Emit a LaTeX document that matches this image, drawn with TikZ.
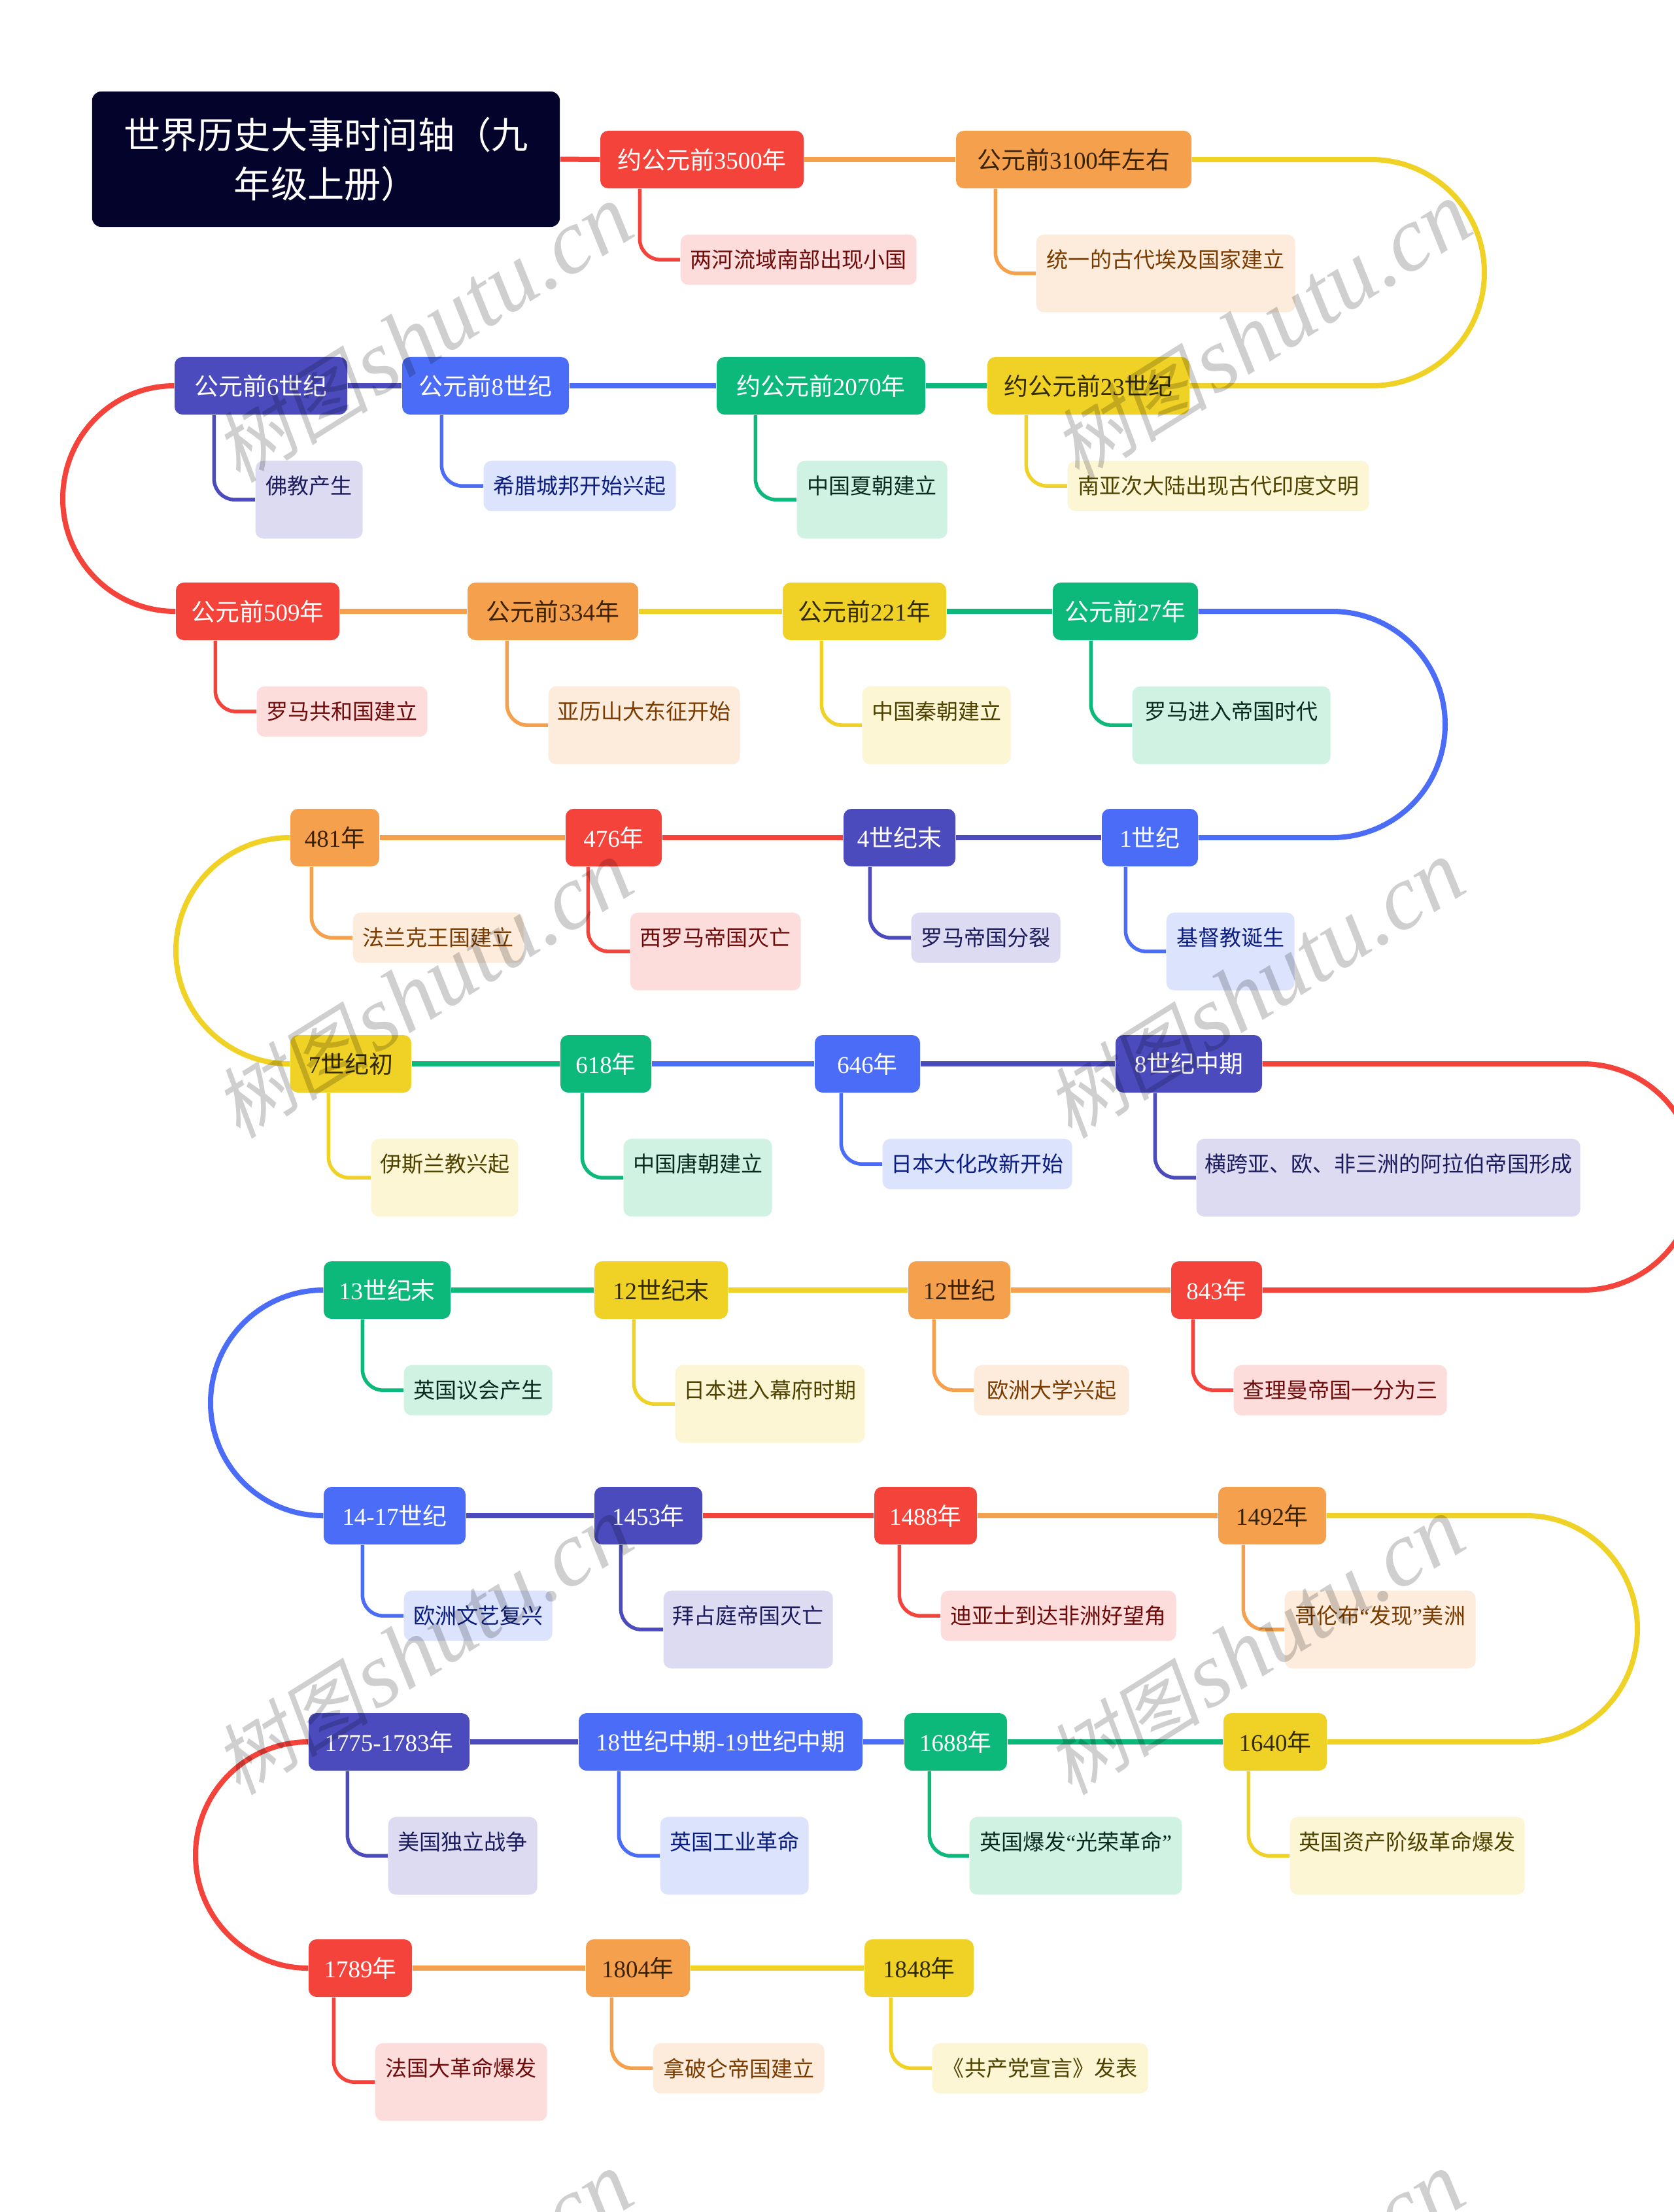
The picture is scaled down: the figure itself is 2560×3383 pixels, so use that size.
\documentclass[tikz,border=0pt]{standalone}
\usepackage{fontspec}
\setmainfont{Noto Sans CJK SC}
\newfontfamily\digitfont{Liberation Serif}
\newfontfamily\wmlatinfont{Liberation Serif}
\newfontfamily\wmcjkfont{Noto Sans CJK SC}[FakeSlant=0.2]
\newcommand\yr[1]{{\digitfont #1}}
\pgfdeclarelayer{paper}
\pgfdeclarelayer{bg}
\pgfdeclarelayer{fg}
\pgfsetlayers{paper,bg,main,fg}
\definecolor{cR}{HTML}{F4433A}
\definecolor{cO}{HTML}{F5A04C}
\definecolor{cY}{HTML}{F0D125}
\definecolor{cG}{HTML}{0CB97A}
\definecolor{cB}{HTML}{4A6CF6}
\definecolor{cI}{HTML}{4B4BBE}
\definecolor{lR}{HTML}{FDDCDC}
\definecolor{lO}{HTML}{FDECDC}
\definecolor{lY}{HTML}{FCF6D5}
\definecolor{lG}{HTML}{CFF2E3}
\definecolor{lB}{HTML}{DCE3FD}
\definecolor{lI}{HTML}{DCDBF1}
\definecolor{tR}{HTML}{6E0B0B}
\definecolor{tO}{HTML}{7A3B00}
\definecolor{tY}{HTML}{4D4200}
\definecolor{tG}{HTML}{0A2A20}
\definecolor{tB}{HTML}{0C1E80}
\definecolor{tI}{HTML}{1C1C5C}
\definecolor{tPO}{HTML}{3A2200}
\definecolor{tPY}{HTML}{332B00}
\definecolor{titlebg}{HTML}{03032B}
\tikzset{
  pbox/.style={rounded corners=0.12cm, minimum height=0.88cm, inner sep=0pt, font=\fontsize{10.5}{12}\selectfont},
  boxR/.style={fill=cR,text=white},
  boxO/.style={fill=cO,text=tPO},
  boxY/.style={fill=cY,text=tPY},
  boxG/.style={fill=cG,text=white},
  boxB/.style={fill=cB,text=white},
  boxI/.style={fill=cI,text=white},
  cbox/.style={rounded corners=0.12cm, anchor=north west, inner sep=0pt},
  ctext/.style={anchor=north, minimum height=0.77cm, inner sep=0pt, font=\fontsize{9.4}{11}\selectfont},
  mline/.style={line width=0.08cm},
  clink/.style={line width=0.055cm, rounded corners=0.32cm},
  wm/.style={text=black, text opacity=0.19, inner sep=0pt, rotate=32},
}
% parent: name, left, right, y, colour letter, text
\newcommand\PN[6]{\node[pbox,box#5,minimum width={(#3-#2)*0.01cm}] (#1) at ({(#2+#3)/2},#4) {#6};}
% child: name, parent, offset, left, right, row y, height, colour letter, text
\newcommand\CN[9]{%
  \node[cbox,fill=l#8,minimum width={(#5-#4)*0.01cm},minimum height={#7*0.01cm}] (#1) at (#4,{#6+114}) {};
  \node[ctext,text=t#8] (#1-t) at (#1.north) {#9};
  \begin{pgfonlayer}{bg}
    \draw[clink,c#8] ([xshift=#3*0.01cm]#2.south west) |- (#1.west);
  \end{pgfonlayer}}
\newcommand\WM[3]{\node[wm] (#1) at (#2,#3) {{\wmcjkfont\fontsize{34}{36}\selectfont 树图}\hspace{0.25em}{\wmlatinfont\itshape\fontsize{40}{42}\selectfont shutu.cn}};}
\begin{document}
\begin{tikzpicture}[x=0.01cm,y=-0.01cm]
\useasboundingbox (0,0) rectangle (2560,3383);
\begin{pgfonlayer}{paper}
\fill[white] (0,0) rectangle (2560,3383);
\end{pgfonlayer}

% title
\node[fill=titlebg, rounded corners=0.14cm, text=white, align=center, inner sep=0pt,
      minimum width=7.15cm, minimum height=2.07cm, font=\fontsize{16}{21.5}\selectfont]
      (title) at (498.5,243.5) {世界历史大事时间轴（九\\年级上册）};

% parents
\PN{P3500}{918}{1229}{244}{R}{约公元前\yr{3500}年}
\PN{P3100}{1462}{1822}{244}{O}{公元前\yr{3100}年左右}

\PN{P6c}{267}{531}{590}{I}{公元前\yr{6}世纪}
\PN{P8c}{615}{870}{590}{B}{公元前\yr{8}世纪}
\PN{P2070}{1096}{1415}{590}{G}{约公元前\yr{2070}年}
\PN{P23c}{1510}{1819}{590}{Y}{约公元前\yr{23}世纪}

\PN{P509}{269}{519}{935}{R}{公元前\yr{509}年}
\PN{P334}{715}{976}{935}{O}{公元前\yr{334}年}
\PN{P221}{1197}{1447}{935}{Y}{公元前\yr{221}年}
\PN{P27}{1610}{1832}{935}{G}{公元前\yr{27}年}

\PN{P481}{444}{580}{1281}{O}{\yr{481}年}
\PN{P476}{865}{1012}{1281}{R}{\yr{476}年}
\PN{P4c}{1290}{1461}{1281}{I}{\yr{4}世纪末}
\PN{P1c}{1685}{1832}{1281}{B}{\yr{1}世纪}

\PN{P7c}{444}{629}{1627}{Y}{\yr{7}世纪初}
\PN{P618}{857}{996}{1627}{G}{\yr{618}年}
\PN{P646}{1246}{1407}{1627}{B}{\yr{646}年}
\PN{P8cm}{1706}{1930}{1627}{I}{\yr{8}世纪中期}

\PN{P13c}{495}{689}{1973}{G}{\yr{13}世纪末}
\PN{P12ce}{909}{1113}{1973}{Y}{\yr{12}世纪末}
\PN{P12c}{1389}{1545}{1973}{O}{\yr{12}世纪}
\PN{P843}{1791}{1930}{1973}{R}{\yr{843}年}

\PN{P1417}{495}{712}{2318}{B}{\yr{14-17}世纪}
\PN{P1453}{909}{1074}{2318}{I}{\yr{1453}年}
\PN{P1488}{1337}{1494}{2318}{R}{\yr{1488}年}
\PN{P1492}{1863}{2028}{2318}{O}{\yr{1492}年}

\PN{P1775}{472}{718}{2664}{I}{\yr{1775-1783}年}
\PN{P18c}{885}{1319}{2664}{B}{\yr{18}世纪中期\yr{-19}世纪中期}
\PN{P1688}{1383}{1540}{2664}{G}{\yr{1688}年}
\PN{P1640}{1871}{2029}{2664}{Y}{\yr{1640}年}

\PN{P1789}{472}{630}{3010}{R}{\yr{1789}年}
\PN{P1804}{896}{1055}{3010}{O}{\yr{1804}年}
\PN{P1848}{1322}{1489}{3010}{Y}{\yr{1848}年}

% children
\CN{c1a}{P3500}{61}{1040}{1401}{244}{77}{R}{两河流域南部出现小国}
\CN{c1b}{P3100}{61}{1584}{1980}{244}{119}{O}{统一的古代埃及国家建立}
\CN{c2a}{P6c}{61}{390}{554}{590}{119}{I}{佛教产生}
\CN{c2b}{P8c}{61}{739}{1033}{590}{77}{B}{希腊城邦开始兴起}
\CN{c2c}{P2070}{60}{1218}{1448}{590}{119}{G}{中国夏朝建立}
\CN{c2d}{P23c}{60}{1632}{2093}{590}{77}{Y}{南亚次大陆出现古代印度文明}
\CN{c3a}{P509}{61}{392}{653}{935}{77}{R}{罗马共和国建立}
\CN{c3b}{P334}{61}{838}{1131}{935}{119}{O}{亚历山大东征开始}
\CN{c3c}{P221}{60}{1318}{1545}{935}{119}{Y}{中国秦朝建立}
\CN{c3d}{P27}{59}{1731}{2034}{935}{119}{G}{罗马进入帝国时代}
\CN{c4a}{P481}{33}{539}{800}{1281}{77}{O}{法兰克王国建立}
\CN{c4b}{P476}{35}{963}{1224}{1281}{119}{R}{西罗马帝国灭亡}
\CN{c4c}{P4c}{41}{1393}{1621}{1281}{77}{I}{罗马帝国分裂}
\CN{c4d}{P1c}{37}{1783}{1979}{1281}{119}{B}{基督教诞生}
\CN{c5a}{P7c}{59}{567}{792}{1627}{119}{Y}{伊斯兰教兴起}
\CN{c5b}{P618}{34}{953}{1180}{1627}{119}{G}{中国唐朝建立}
\CN{c5c}{P646}{41}{1349}{1639}{1627}{77}{B}{日本大化改新开始}
\CN{c5d}{P8cm}{61}{1829}{2416}{1627}{119}{I}{横跨亚、欧、非三洲的阿拉伯帝国形成}
\CN{c6a}{P13c}{60}{617}{844}{1973}{77}{G}{英国议会产生}
\CN{c6b}{P12ce}{61}{1032}{1322}{1973}{119}{Y}{日本进入幕府时期}
\CN{c6c}{P12c}{40}{1489}{1726}{1973}{77}{O}{欧洲大学兴起}
\CN{c6d}{P843}{34}{1886}{2212}{1973}{77}{R}{查理曼帝国一分为三}
\CN{c7a}{P1417}{60}{617}{844}{2318}{77}{B}{欧洲文艺复兴}
\CN{c7b}{P1453}{41}{1014}{1273}{2318}{119}{I}{拜占庭帝国灭亡}
\CN{c7c}{P1488}{39}{1438}{1798}{2318}{77}{R}{迪亚士到达非洲好望角}
\CN{c7d}{P1492}{39}{1964}{2256}{2318}{119}{O}{哥伦布\yr{“}发现\yr{”}美洲}
\CN{c8a}{P1775}{60}{593}{821}{2664}{119}{I}{美国独立战争}
\CN{c8b}{P18c}{62}{1009}{1236}{2664}{119}{B}{英国工业革命}
\CN{c8c}{P1688}{39}{1482}{1807}{2664}{119}{G}{英国爆发\yr{“}光荣革命\yr{”}}
\CN{c8d}{P1640}{39}{1972}{2331}{2664}{119}{Y}{英国资产阶级革命爆发}
\CN{c9a}{P1789}{39}{573}{836}{3010}{119}{R}{法国大革命爆发}
\CN{c9b}{P1804}{40}{998}{1260}{3010}{77}{O}{拿破仑帝国建立}
\CN{c9c}{P1848}{41}{1425}{1755}{3010}{77}{Y}{《共产党宣言》发表}

% main timeline
\begin{pgfonlayer}{bg}
\draw[mline,cR] (title.east) -- (P3500.west);
\draw[mline,cO] (P3500.east) -- (P3100.west);
\draw[mline,cY] (P3100.east) -- (2097,244) to[out=0,in=90] (2270,417) to[out=-90,in=0] (2097,590) -- (P23c.east);
\draw[mline,cG] (P23c.west) -- (P2070.east);
\draw[mline,cB] (P2070.west) -- (P8c.east);
\draw[mline,cI] (P8c.west) -- (P6c.east);
\draw[mline,cR] (P6c.west) to[out=180,in=90] (96,762.5) to[out=-90,in=180] (P509.west);
\draw[mline,cO] (P509.east) -- (P334.west);
\draw[mline,cY] (P334.east) -- (P221.west);
\draw[mline,cG] (P221.east) -- (P27.west);
\draw[mline,cB] (P27.east) -- (2037,935) to[out=0,in=90] (2210,1108) to[out=-90,in=0] (2037,1281) -- (P1c.east);
\draw[mline,cI] (P1c.west) -- (P4c.east);
\draw[mline,cR] (P4c.west) -- (P476.east);
\draw[mline,cO] (P476.west) -- (P481.east);
\draw[mline,cY] (P481.west) to[out=180,in=90] (269,1454) to[out=-90,in=180] (P7c.west);
\draw[mline,cG] (P7c.east) -- (P618.west);
\draw[mline,cB] (P618.east) -- (P646.west);
\draw[mline,cI] (P646.east) -- (P8cm.west);
\draw[mline,cR] (P8cm.east) -- (2420,1627) to[out=0,in=90] (2593,1800) to[out=-90,in=0] (2420,1973) -- (P843.east);
\draw[mline,cO] (P843.west) -- (P12c.east);
\draw[mline,cY] (P12c.west) -- (P12ce.east);
\draw[mline,cG] (P12ce.west) -- (P13c.east);
\draw[mline,cB] (P13c.west) to[out=180,in=90] (322,2145.5) to[out=-90,in=180] (P1417.west);
\draw[mline,cI] (P1417.east) -- (P1453.west);
\draw[mline,cR] (P1453.east) -- (P1488.west);
\draw[mline,cO] (P1488.east) -- (P1492.west);
\draw[mline,cY] (P1492.east) -- (2334,2318) to[out=0,in=90] (2504,2491) to[out=-90,in=0] (2334,2664) -- (P1640.east);
\draw[mline,cG] (P1640.west) -- (P1688.east);
\draw[mline,cB] (P1688.west) -- (P18c.east);
\draw[mline,cI] (P18c.west) -- (P1775.east);
\draw[mline,cR] (P1775.west) to[out=180,in=90] (299,2837) to[out=-90,in=180] (P1789.west);
\draw[mline,cO] (P1789.east) -- (P1804.west);
\draw[mline,cY] (P1804.east) -- (P1848.west);
\end{pgfonlayer}

% watermarks
\begin{pgfonlayer}{fg}
\WM{wm1}{647}{511}
\WM{wm2}{1930}{507}
\WM{wm3}{647}{1514}
\WM{wm4}{1919}{1514}
\WM{wm5}{647}{2518}
\WM{wm6}{1919}{2518}
\WM{wm7}{647}{3520}
\WM{wm8}{1919}{3520}
\end{pgfonlayer}
\end{tikzpicture}
\end{document}
